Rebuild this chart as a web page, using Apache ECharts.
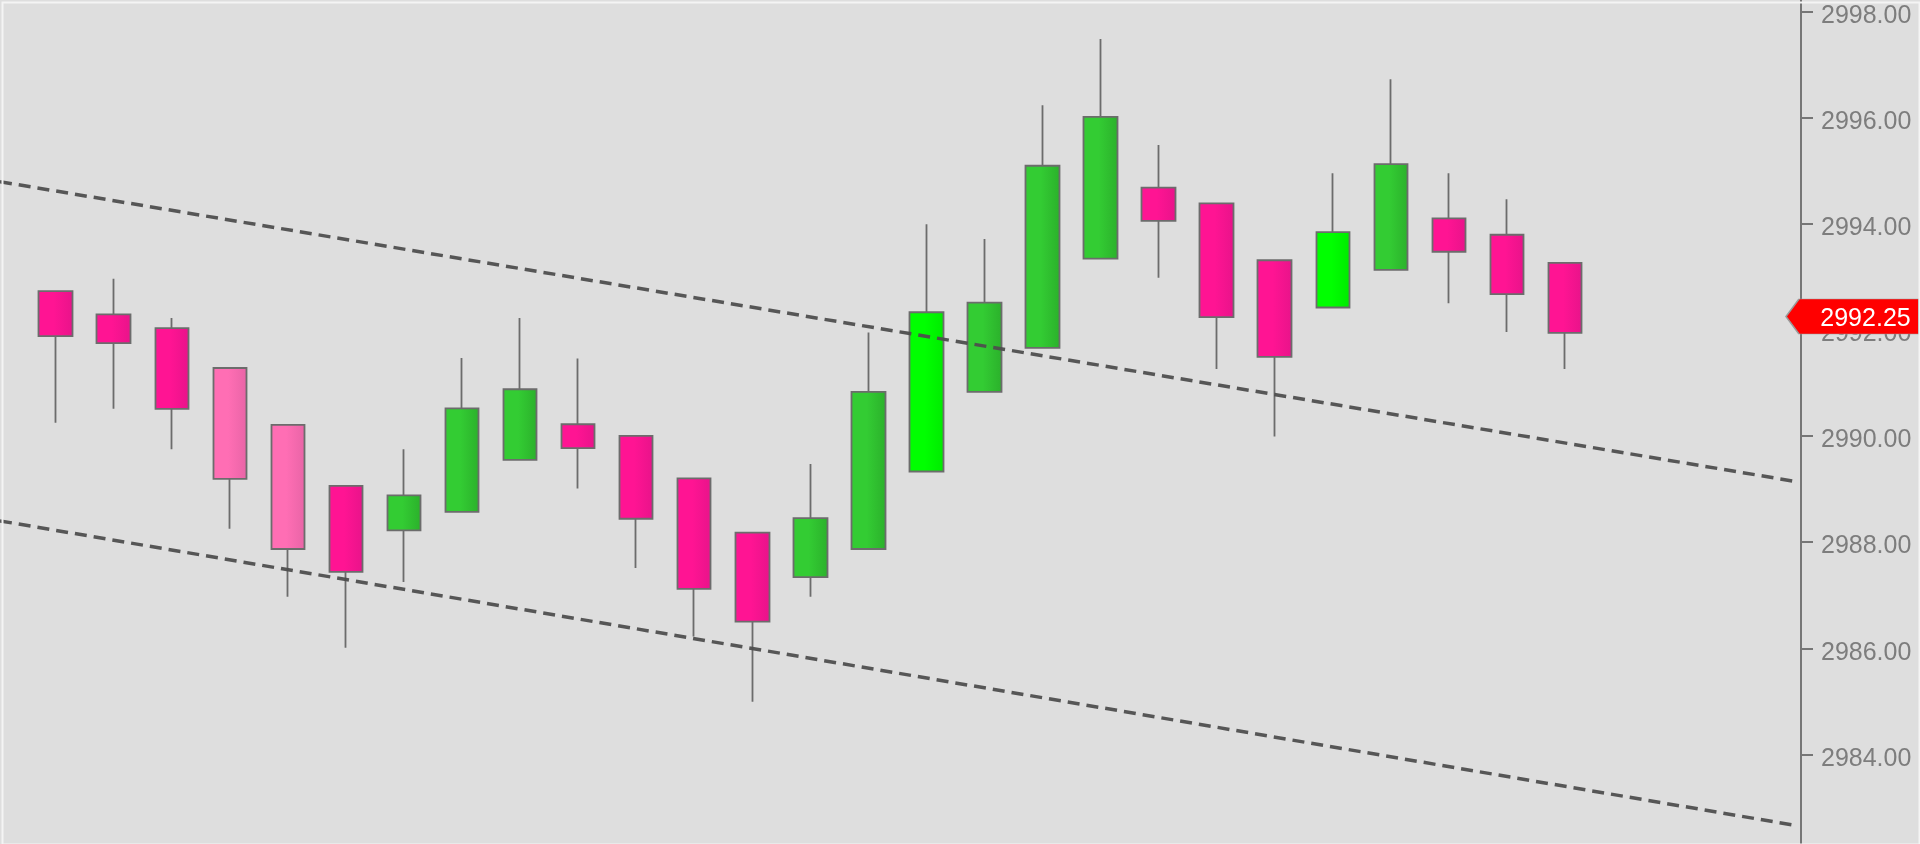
<!DOCTYPE html>
<html>
<head>
<meta charset="utf-8">
<script src="https://cdn.jsdelivr.net/npm/echarts@6/dist/echarts.min.js"></script>
<style>
html,body{margin:0;padding:0;background:#dedede;overflow:hidden}
#chart{width:1920px;height:844px}
</style>
</head>
<body>
<div id="chart"></div>
<script>
// ---- data ----
const barIndex    = [0,1,2,3,4,5,6,7,8,9,10,11,12,13,14,15,16,17,18,19,20,21,22,23,24,25,26];
const openPrices  = [2992.73,2992.29,2992.03,2991.28,2990.21,2989.06,2988.22,2988.57,2989.55,2990.22,2990.00,2989.20,2988.18,2987.34,2987.87,2989.33,2990.83,2991.66,2993.34,2994.68,2994.38,2993.31,2992.42,2993.13,2994.10,2993.79,2993.26];
const closePrices = [2991.88,2991.75,2990.51,2989.19,2987.87,2987.44,2988.88,2990.52,2990.88,2989.77,2988.44,2987.12,2986.50,2988.45,2990.83,2992.33,2992.51,2995.09,2996.01,2994.05,2992.24,2991.49,2993.84,2995.12,2993.47,2992.67,2991.94];
const lowPrices   = [2990.25,2990.51,2989.75,2988.25,2986.97,2986.01,2987.25,2988.57,2989.55,2989.01,2987.51,2986.22,2984.99,2986.97,2987.87,2989.33,2990.83,2991.66,2993.34,2992.98,2991.26,2989.99,2992.42,2993.13,2992.50,2991.96,2991.26];
const highPrices  = [2992.73,2992.96,2992.22,2991.28,2990.21,2989.06,2989.75,2991.47,2992.22,2991.46,2990.00,2989.20,2988.18,2989.47,2991.95,2993.99,2993.71,2996.23,2997.48,2995.48,2994.38,2993.31,2994.95,2996.72,2994.95,2994.46,2993.26];
const candleTone  = ['n','n','n','l','l','n','n','n','n','n','n','n','n','n','n','b','n','n','n','n','n','n','b','n','n','n','n'];
const lastPrice   = 2992.25;
const upperChannel = [[-0.96, 2994.79], [29.93, 2989.15]];
const lowerChannel = [[-0.96, 2988.40], [29.93, 2982.67]];
const yMin = 2982, yMax = 2999, yStep = 2;
const xMin = -0.9595, xMax = 30.066;

// ---- styles ----
function grad(c1, c2) {
  return new echarts.graphic.LinearGradient(0, 0, 1, 0, [
    {offset: 0, color: c1}, {offset: 0.45, color: c1}, {offset: 1, color: c2}
  ]);
}
const palette = {
  up:   {n: ['#33cc33', '#2bb02b'], b: ['#00ff00', '#00ea00'], l: ['#33cc33', '#2bb02b']},
  down: {n: ['#ff1493', '#e8138a'], l: ['#ff6eb4', '#e864a6'], b: ['#ff1493', '#e8138a']}
};

const candleData = barIndex.map((i) => {
  const o = openPrices[i], c = closePrices[i];
  const tone = candleTone[i];
  const pair = (c >= o ? palette.up : palette.down)[tone];
  const fill = grad(pair[0], pair[1]);
  return {
    value: [i, o, c, lowPrices[i], highPrices[i]],
    itemStyle: {
      color: fill, color0: fill,
      borderColor: '#6c6c6c', borderColor0: '#6c6c6c'
    }
  };
});

const labelFont = 'Liberation Sans, Arial, sans-serif';

const chart = echarts.init(document.getElementById('chart'), null, {renderer: 'canvas'});
chart.setOption({
  animation: false,
  backgroundColor: '#dedede',
  grid: {
    left: 0, right: 119, top: -41.78, bottom: -16.58,
    containLabel: false, outerBoundsMode: 'none'
  },
  xAxis: {
    type: 'value', min: xMin, max: xMax, show: false,
    splitLine: {show: false}
  },
  yAxis: {
    type: 'value', position: 'right', min: yMin, max: yMax, interval: yStep,
    scale: true,
    splitLine: {show: false},
    axisLine: {show: true, onZero: false, lineStyle: {color: '#767676', width: 2}},
    axisTick: {show: true, length: 12, lineStyle: {color: '#767676', width: 2}},
    axisLabel: {
      show: true, margin: 20, color: '#7d7d7d', fontSize: 25,
      fontFamily: labelFont,
      formatter: (v) => (v === yMin || v === yMax) ? '' : '{t|' + v.toFixed(2) + '}',
      rich: {
        t: {
          color: '#7d7d7d', fontSize: 25, fontFamily: labelFont,
          padding: [9, 0, 0, 0]
        }
      }
    }
  },
  graphic: [{
    type: 'rect', left: 0, top: 0, z: 100, silent: true,
    shape: {x: 0, y: 0, width: 1917, height: 842},
    style: {fill: null, stroke: '#f4f4f4', lineWidth: 2}
  }],
  series: [
    {
      type: 'candlestick',
      encode: {x: 0, y: [1, 2, 3, 4]},
      barWidth: 34,
      z: 2,
      itemStyle: {
        borderColor: '#6c6c6c', borderColor0: '#6c6c6c', borderWidth: 1.8
      },
      data: candleData,
      markPoint: {
        silent: true,
        symbol: 'path://M0,17.5 L13,0 L133,0 L133,35 L13,35 Z',
        symbolSize: [133, 35],
        symbolKeepAspect: false,
        symbolOffset: [51.5, 0],
        itemStyle: {color: '#ff0000', borderColor: '#9a9a9a', borderWidth: 1},
        label: {
          show: true, position: 'inside', offset: [13, 3],
          color: '#ffffff', fontSize: 25,
          fontFamily: labelFont,
          formatter: () => lastPrice.toFixed(2)
        },
        data: [{coord: [xMax, lastPrice], value: lastPrice}]
      }
    },
    {
      type: 'line', data: upperChannel, symbol: 'none', silent: true, z: 5,
      lineStyle: {color: '#4e4e4e', width: 3.5, type: [12, 7], opacity: 0.95}
    },
    {
      type: 'line', data: lowerChannel, symbol: 'none', silent: true, z: 5,
      lineStyle: {color: '#4e4e4e', width: 3.5, type: [12, 7], opacity: 0.95}
    }
  ]
});
</script>
</body>
</html>
